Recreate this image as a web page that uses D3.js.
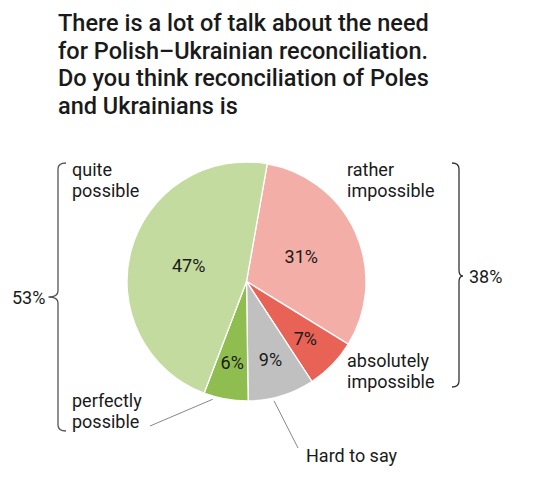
<!DOCTYPE html>
<html><head><meta charset="utf-8">
<script src="https://cdn.jsdelivr.net/npm/d3@7"></script>
<style>body{margin:0;background:#fff}svg{display:block}text{font-family:Roboto,"Noto Sans",sans-serif}</style>
</head><body><svg id="c" width="534" height="491"></svg>
<script>
const titleLines = ["There is a lot of talk about the need","for Polish\u2013Ukrainian reconciliation.","Do you think reconciliation of Poles","and Ukrainians is"];
const categories = ["rather impossible","absolutely impossible","Hard to say","perfectly possible","quite possible"];
const values = [31, 7, 9, 6, 47];
const colors = ["#f3aea7","#e86356","#c0c0c0","#90bd4f","#c3db9e"];
const groupLabels = ["53%","38%"];

const svg = d3.select("#c");
const cx = 246.5, cy = 281.5, R = 119.5;
const deg = Math.PI/180;

// title
svg.append("text").attr("x",58).attr("y",31)
  .attr("font-size",23.5).attr("font-weight",500).attr("fill","#1a1a1a")
  .selectAll("tspan").data(titleLines).join("tspan")
  .attr("x",58).attr("dy",(d,i)=>i?27.5:0).text(d=>d);

const pie = d3.pie().sort(null).value(d=>d)
  .startAngle(10*deg).endAngle(370*deg);
const arcs = pie(values);
const arc = d3.arc().innerRadius(0).outerRadius(R);
const g = svg.append("g").attr("transform",`translate(${cx},${cy})`);
g.selectAll("path").data(arcs).join("path")
  .attr("d",arc).attr("fill",(d,i)=>colors[i])
  .attr("stroke","#fff").attr("stroke-width",1.3);

// inner percent labels
g.selectAll("text.pct").data(arcs).join("text").attr("class","pct")
  .each(function(d){
    const r = d.value > 20 ? 60 : 82;
    const a = (d.startAngle+d.endAngle)/2;
    d3.select(this).attr("x", Math.sin(a)*r).attr("y", -Math.cos(a)*r);
  })
  .attr("dy","0.36em").attr("text-anchor","middle")
  .attr("font-size",18).attr("fill","#1a1a1a")
  .text(d=>d.value+"%");

// outer category labels
const labelPos = [
  {x:347, y:176},   // rather impossible
  {x:347, y:367},   // absolutely impossible
  {x:306, y:462},   // hard to say
  {x:72, y:407},    // perfectly possible
  {x:72, y:176}     // quite possible
];
const splitLabel = s => s === "Hard to say" ? [s] : [s.slice(0, s.lastIndexOf(" ")), s.slice(s.lastIndexOf(" ")+1)];
categories.forEach((c,i)=>{
  const t = svg.append("text").attr("x",labelPos[i].x).attr("y",labelPos[i].y)
    .attr("font-size",18).attr("fill","#1a1a1a");
  splitLabel(c).forEach((s,j)=>t.append("tspan").attr("x",labelPos[i].x).attr("dy",j?21:0).text(s));
});

// leader lines
const lead = (a, r1, x2, y2) => svg.append("line")
  .attr("x1",cx+Math.sin(a)*r1).attr("y1",cy-Math.cos(a)*r1)
  .attr("x2",x2).attr("y2",y2).attr("stroke","#888").attr("stroke-width",1);
lead((arcs[3].startAngle+arcs[3].endAngle)/2 + 6*deg, R+3, 150, 426);
lead((arcs[2].startAngle+arcs[2].endAngle)/2 + 4*deg, R+3, 298, 448);

// braces
function brace(xv, xend, xtip, y0, y1, ym){
  const r = 6;
  return `M${xend},${y0} Q${xv},${y0} ${xv},${y0+r} L${xv},${ym-r} Q${xv},${ym} ${xtip},${ym} Q${xv},${ym} ${xv},${ym+r} L${xv},${y1-r} Q${xv},${y1} ${xend},${y1}`;
}
svg.append("path").attr("d",brace(58,66,48.5,163,431,297))
  .attr("fill","none").attr("stroke","#555").attr("stroke-width",1.3);
svg.append("path").attr("d",brace(459,452,463,163,387,276))
  .attr("fill","none").attr("stroke","#333").attr("stroke-width",1.3);
svg.append("text").attr("x",12).attr("y",303.5).attr("font-size",18).attr("fill","#1a1a1a").text(groupLabels[0]);
svg.append("text").attr("x",469).attr("y",282.5).attr("font-size",18).attr("fill","#1a1a1a").text(groupLabels[1]);
</script></body></html>
